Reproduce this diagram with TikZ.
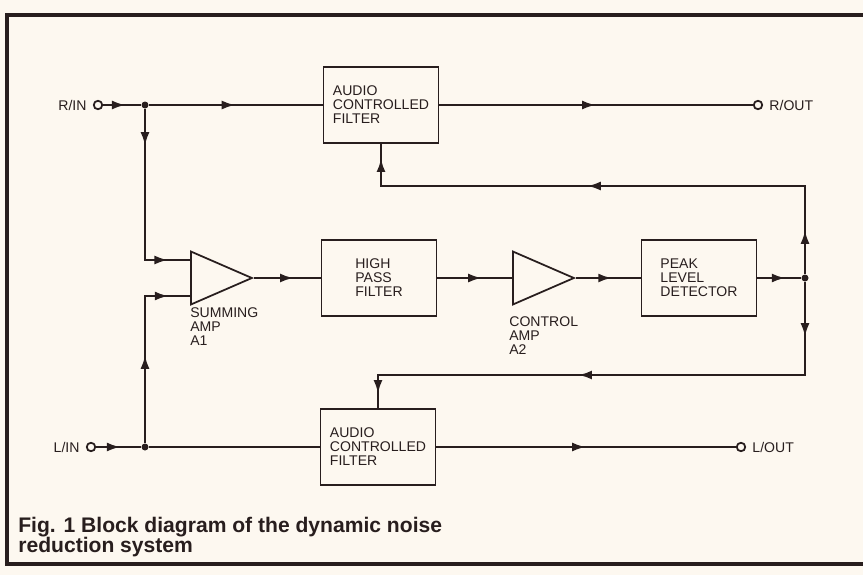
\documentclass[tikz,border=0pt]{standalone}
\usepackage{fontspec}
\setmainfont{Liberation Sans}
\usepackage{tikz}
\usetikzlibrary{arrows.meta}
\usetikzlibrary{shapes.geometric}
\usetikzlibrary{positioning}
\usetikzlibrary{decorations.markings}

\definecolor{paper}{RGB}{253,248,240}
\definecolor{ink}{RGB}{40,30,30}

\tikzset{
	wire/.style={ink, line width=1.6pt},
	arr/.style={postaction={decorate, decoration={markings, mark=at position #1 with {\arrow{Latex[length=2.8mm, width=1.8mm]}}}}},
	blockbox/.style={draw=ink, line width=1pt, minimum width=2.3cm, minimum height=1.53cm, align=left, font=\fontsize{8}{8}\selectfont, text=ink, inner sep=0pt},
	amp/.style={draw=ink, line width=1pt, isosceles triangle, isosceles triangle stretches, minimum width=1.06cm, minimum height=1.22cm, inner sep=0pt, anchor=west},
	jack/.style={circle, draw=ink, line width=1pt, fill=paper, minimum size=0.17cm, inner sep=0pt},
	joint/.style={circle, fill=ink, minimum size=0.14cm, inner sep=0pt},
	lbl/.style={font=\fontsize{8}{8}\selectfont, text=ink, inner sep=0pt, align=left},
}

\begin{document}
\begin{tikzpicture}[x=0.02cm, y=-0.02cm]

	\useasboundingbox (0,0) rectangle (863,575);
	\fill[paper] (0,0) rectangle (863,575);

	%frame

	\draw[ink, line width=1.8pt] (863,15) -- (7,15) -- (7,564) -- (863,564);

	%right channel

	\node[jack] (rin) at (98,105) {};
	\node[lbl, left=0.12cm of rin] (rinlbl) {R/IN};
	\node[joint] (jr) at (145,105) {};
	\node[blockbox] (acfr) at (381,105) {AUDIO\\CONTROLLED\\FILTER};
	\node[jack] (rout) at (758,105) {};
	\node[lbl, right=0.12cm of rout] (routlbl) {R/OUT};

	%middle chain

	\node[amp] (a1) at (190,278) {};
	\coordinate (a1p) at (190,260);
	\coordinate (a1m) at (190,296);
	\node[lbl, anchor=north west] (a1lbl) at (190,307) {SUMMING\\AMP\\A1};
	\node[blockbox] (hpf) at (379,278) {HIGH\\PASS\\FILTER};
	\node[amp] (a2) at (512,278) {};
	\node[lbl, anchor=north west] (a2lbl) at (509,316) {CONTROL\\AMP\\A2};
	\node[blockbox] (pld) at (699,278) {PEAK\\LEVEL\\DETECTOR};
	\node[joint] (jp) at (805,278) {};
	\coordinate (fbtop) at (805,186);
	\coordinate (fbbot) at (805,375);

	%left channel

	\node[jack] (lin) at (91,447) {};
	\node[lbl, left=0.12cm of lin] (linlbl) {L/IN};
	\node[joint] (jl) at (145,447) {};
	\node[blockbox] (acfl) at (378,447) {AUDIO\\CONTROLLED\\FILTER};
	\node[jack] (lout) at (741,447) {};
	\node[lbl, right=0.12cm of lout] (loutlbl) {L/OUT};

	%wires

	\draw[wire, arr=0.6] (rin) -- (jr);
	\draw[wire, arr=0.5] (jr) -- (acfr);
	\draw[wire, arr=0.5] (acfr) -- (rout);
	\draw[wire, arr=0.19, arr=0.89] (jr) |- (a1p);
	\draw[wire, arr=0.46, arr=0.89] (jl) |- (a1m);
	\draw[wire, arr=0.55] (lin) -- (jl);
	\draw[wire] (jl) -- (acfl);
	\draw[wire, arr=0.5] (acfl) -- (lout);

	\draw[wire, arr=0.6] (a1.east) -- (hpf.west);
	\draw[wire, arr=0.6] (hpf.east) -- (a2.west);
	\draw[wire, arr=0.56] (a2.east) -- (pld.west);
	\draw[wire, arr=0.65] (pld) -- (jp);

	\draw[wire, arr=0.08, arr=0.553, arr=0.975] (jp) -- (fbtop) -| (acfr.south);
	\draw[wire, arr=0.1, arr=0.579, arr=0.975] (jp) -- (fbbot) -| (acfl.north);

	%caption

	\node[anchor=north west, inner sep=0pt, align=left, text=ink, font=\fontsize{12}{11.4}\selectfont\bfseries] (caption) at (18,517) {Fig. 1 Block diagram of the dynamic noise\\reduction system};

\end{tikzpicture}
\end{document}
